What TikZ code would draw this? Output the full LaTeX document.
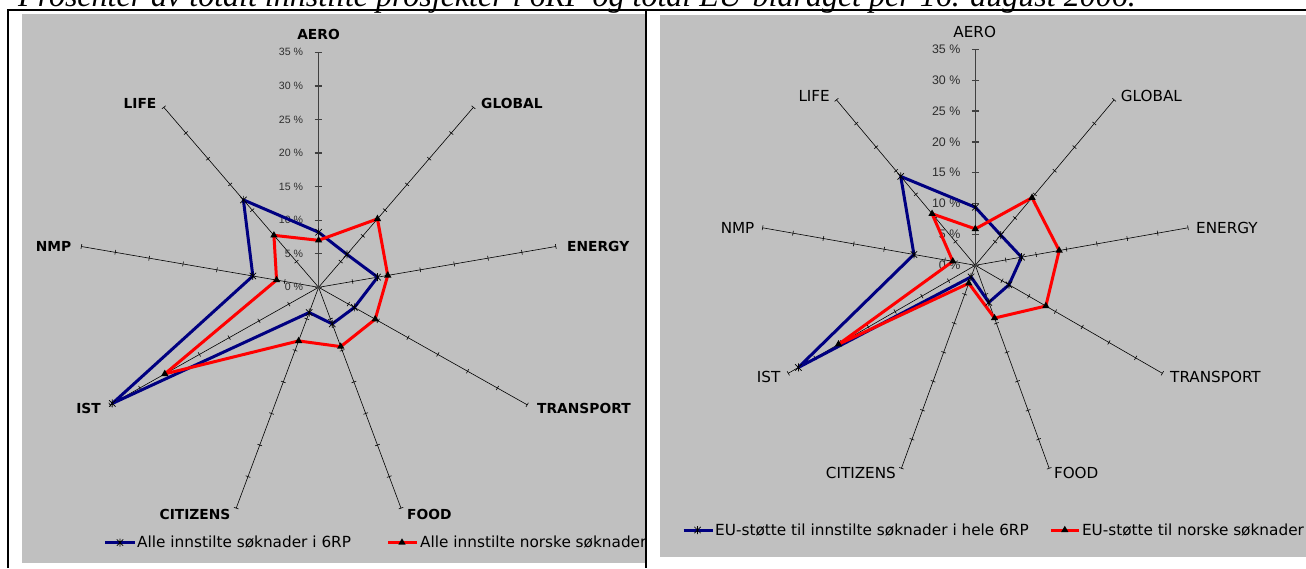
\documentclass[tikz,border=0pt]{standalone}
\usepackage{fontspec}
\setmainfont{Liberation Serif}
\setsansfont{DejaVu Sans}
\newfontfamily\pctfont{Liberation Sans}
\usepackage{tikz}
\usetikzlibrary{positioning,shapes.geometric}
\definecolor{chartBg}{HTML}{C0C0C0}
\definecolor{sAll}{HTML}{000080}
\definecolor{sNor}{HTML}{FF0000}
\definecolor{pctGray}{HTML}{2E2E2E}

\begin{document}
\begin{tikzpicture}[x=1pt,y=1pt,
  frame/.style={black,line width=1.6pt},
  spoke/.style={black,line width=0.6pt},
  valaxis/.style={black!75,line width=1.3pt},
  allser/.style={sAll,line width=3pt,line join=round},
  norser/.style={sNor,line width=3pt,line join=round},
  tri/.style={regular polygon,regular polygon sides=3,fill=black,inner sep=0pt,minimum size=8.5pt},
  pics/starmk/.style={code={\draw[black,line width=0.7pt] (-3.2,-3.2)--(3.2,3.2) (-3.2,3.2)--(3.2,-3.2) (0,-4)--(0,4);}},
  catb/.style={font=\sffamily\bfseries\fontsize{13.8}{16}\selectfont,inner sep=0pt},
  catn/.style={font=\sffamily\fontsize{15.2}{18}\selectfont,inner sep=0pt},
  pct/.style={font=\pctfont\fontsize{10.6}{12}\selectfont,text=pctGray,inner sep=0pt,anchor=east},
  leg/.style={font=\sffamily\fontsize{15.3}{18}\selectfont,inner sep=0pt,anchor=west}]

\useasboundingbox (0,0) rectangle (1306,-568);
\clip (0,0) rectangle (1306,-568);

% title, cut by the page top
\node[anchor=base west,inner sep=0pt,font=\itshape\fontsize{32}{34}\selectfont] (ttl) at (18,-6)
  {Prosenter av totalt innstilte prosjekter i 6RP og total EU-bidraget per 16. august 2006.};

% table lines and chart panels
\draw[frame] (8,-568) -- (8,-10) -- (1306,-10);
\draw[frame] (646,-10) -- (646,-568);
\fill[chartBg] (22,-14) rectangle (645,-563.3);
\fill[chartBg] (660,-15) rectangle (1306,-557.3);

% left chart
\begin{scope}
\clip (22,-14) rectangle (645,-563.3);
\begin{scope}[shift={(318.6,-287.3)},xscale=1.025]
  \def\rr{6.714}
  \foreach \a in {50,10,-30,-70,-110,-150,170,130}{
    \draw[spoke] (0,0) -- (\a:{35*\rr});
    \foreach \k in {1,...,7}
      \draw[spoke] (\a:{5*\k*\rr}) ++({\a+90}:2.4) -- ++({\a-90}:4.8);
  }
  \draw[valaxis] (0,0) -- (0,{35*\rr});
  \foreach \k [evaluate=\k as \pv using int(5*\k)] in {0,...,7}{
    \draw[valaxis] (-3.8,{5*\k*\rr}) -- (3.8,{5*\k*\rr});
    \node[pct] (lp\k) at (-15,{5*\k*\rr}) {\pv\ \%};
  }
  \foreach \v [count=\i from 0] in {8.2,6.4,8.7,6.0,5.8,4.0,34.6,9.7,17.0}
    \coordinate (la\i) at ({90-40*\i}:{\v*\rr});
  \foreach \v [count=\i from 0] in {7.0,13.3,10.2,9.5,9.4,8.5,25.8,6.2,10.1}
    \coordinate (ln\i) at ({90-40*\i}:{\v*\rr});
  \draw[allser] (la0) \foreach \i in {1,...,8}{-- (la\i)} -- cycle;
  \draw[norser] (ln0) \foreach \i in {1,...,8}{-- (ln\i)} -- cycle;
  \foreach \i in {0,...,8}{
    \pic at (la\i) {starmk};
    \node[tri] (mln\i) at (ln\i) {};
  }
\end{scope}
\node[catb] (lAero) at (318.5,-34) {AERO};
\node[catb,anchor=west] (lGlobal) at (481,-103) {GLOBAL};
\node[catb,anchor=west] (lEnergy) at (567,-246) {ENERGY};
\node[catb,anchor=west] (lTransport) at (537,-408) {TRANSPORT};
\node[catb,anchor=west] (lFood) at (407,-514) {FOOD};
\node[catb,anchor=east] (lCitizens) at (230.6,-514) {CITIZENS};
\node[catb,anchor=east] (lIst) at (101,-408) {IST};
\node[catb,anchor=east] (lNmp) at (71.5,-246) {NMP};
\node[catb,anchor=east] (lLife) at (156.6,-103) {LIFE};
% legend
\node[leg] (lLegA) at (137,-542.5) {Alle innstilte søknader i 6RP};
\draw[allser] ([xshift=-32pt]lLegA.west) -- ([xshift=-2pt]lLegA.west);
\pic at ([xshift=-17pt]lLegA.west) {starmk};
\node[leg] (lLegN) at (420,-542.5) {Alle innstilte norske søknader};
\draw[norser] ([xshift=-32pt]lLegN.west) -- ([xshift=-3pt]lLegN.west);
\node[tri] (lLegT) at ([xshift=-18pt]lLegN.west) {};
\end{scope}

% right chart
\begin{scope}[shift={(975.3,-265.3)}]
  \def\rr{6.171}
  \foreach \a in {50,10,-30,-70,-110,-150,170,130}{
    \draw[spoke] (0,0) -- (\a:{35*\rr});
    \foreach \k in {1,...,7}
      \draw[spoke] (\a:{5*\k*\rr}) ++({\a+90}:2.4) -- ++({\a-90}:4.8);
  }
  \draw[valaxis] (0,0) -- (0,{35*\rr});
  \foreach \k [evaluate=\k as \pv using int(5*\k)] in {0,...,7}{
    \draw[valaxis] (-3.5,{5*\k*\rr}) -- (3.5,{5*\k*\rr});
    \node[pct,font=\pctfont\fontsize{12.4}{14}\selectfont] (rp\k) at (-14.8,{5*\k*\rr}) {\pv\ \%};
  }
  \foreach \v [count=\i from 0] in {9.4,6.4,7.6,6.3,6.4,2.0,33.1,10.1,18.8}
    \coordinate (ra\i) at ({90-40*\i}:{\v*\rr});
  \foreach \v [count=\i from 0] in {5.9,14.3,13.8,13.2,9.1,3.1,25.6,3.7,10.9}
    \coordinate (rn\i) at ({90-40*\i}:{\v*\rr});
  \draw[allser] (ra0) \foreach \i in {1,...,8}{-- (ra\i)} -- cycle;
  \draw[norser] (rn0) \foreach \i in {1,...,8}{-- (rn\i)} -- cycle;
  \foreach \i in {0,...,8}{
    \pic at (ra\i) {starmk};
    \node[tri] (mrn\i) at (rn\i) {};
  }
\end{scope}
\node[catn] (rAero) at (974.7,-31.7) {AERO};
\node[catn,anchor=west] (rGlobal) at (1120.7,-96) {GLOBAL};
\node[catn,anchor=west] (rEnergy) at (1196,-228) {ENERGY};
\node[catn,anchor=west] (rTransport) at (1170,-377) {TRANSPORT};
\node[catn,anchor=west] (rFood) at (1053.8,-473.3) {FOOD};
\node[catn,anchor=east] (rCitizens) at (896,-473.3) {CITIZENS};
\node[catn,anchor=east] (rIst) at (780.5,-377) {IST};
\node[catn,anchor=east] (rNmp) at (754.6,-228) {NMP};
\node[catn,anchor=east] (rLife) at (830,-96) {LIFE};
% legend
\node[leg] (rLegA) at (715,-530) {EU-støtte til innstilte søknader i hele 6RP};
\draw[allser] ([xshift=-31.5pt]rLegA.west) -- ([xshift=-2pt]rLegA.west);
\pic at ([xshift=-17.5pt]rLegA.west) {starmk};
\node[leg] (rLegN) at (1081.8,-530) {EU-støtte til norske søknader};
\draw[norser] ([xshift=-31pt]rLegN.west) -- ([xshift=-3pt]rLegN.west);
\node[tri] (rLegT) at ([xshift=-17pt]rLegN.west) {};
\end{tikzpicture}
\end{document}
